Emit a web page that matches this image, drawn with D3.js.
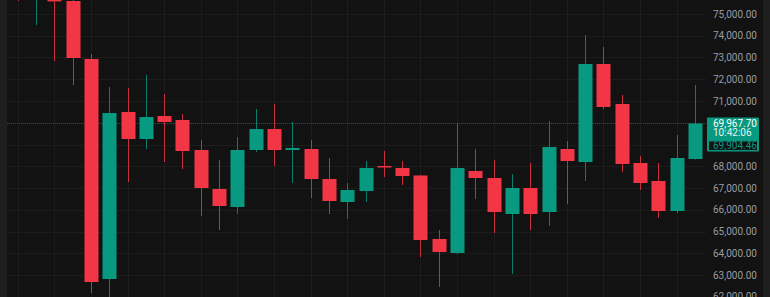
<!DOCTYPE html>
<html><head><meta charset="utf-8">
<script src="https://cdn.jsdelivr.net/npm/d3@7"></script>
<style>
html,body{margin:0;padding:0;background:#121212;}
svg{display:block;}
</style></head>
<body>
<svg id="c" width="770" height="297"></svg>
<script>
// ---- data ----
const idx   = [-1,0,1,2,3,4,5,6,7,8,9,10,11,12,13,14,15,16,17,18,19,20,21,22,23,24,25,26,27,28,29,30,31,32,33,34,35,36];
const opens = [76800,75700,76000,75598,72931,62816,70494,69253,70310,70126,68747,66954,66126,68747,69712,68747,68793,67413,66356,66862,68011,67919,67575,64655,64011,67781,67459,65804,67000,65896,68793,68195,72701,70862,68149,67322,65942,68333];
const highs = [77200,76400,76300,75660,73161,71643,71597,72195,71322,70402,69207,68287,69345,70632,70862,70034,69207,68379,67230,68241,68701,68241,67597,65068,69988,68793,68287,67643,68149,70080,69161,74034,73483,71276,68471,68149,69437,71735];
const lows  = [75600,74494,72839,71735,62172,61700,67275,68793,68195,67873,65712,65068,65804,68655,68011,67230,66540,65804,65574,66356,67505,67138,63827,62448,63965,66494,64930,63045,65068,65252,66264,67322,70632,67735,66908,65620,65850,68310];
const closes= [76100,76000,75580,72977,62677,70448,69253,70264,70034,68701,67000,66172,68747,69712,68747,68839,67413,66402,66908,67919,67942,67551,64609,64057,67919,67459,65896,67000,65804,68885,68241,72701,70724,68103,67230,65942,68379,69967.70];
const priceTicks = [62000,63000,64000,65000,66000,67000,68000,69000,70000,71000,72000,73000,74000,75000];
const axisLabelTicks = [62000,63000,64000,65000,66000,67000,68000,71000,72000,73000,74000,75000];
const lastPriceText = "69,967.70";
const countdownText = "10:42:06";
const secondPriceText = "69,904.46";

const UP = "#089981", DOWN = "#f23645";
const W = 770, H = 297;
const plotL = 7, plotR = 706, axisR = 763;

const svg = d3.select("#c");
svg.append("rect").attr("width",W).attr("height",H).attr("fill","#121212");
svg.append("rect").attr("x",0).attr("y",0).attr("width",plotL).attr("height",H).attr("fill","#1f1f1f");
svg.append("rect").attr("x",axisR).attr("y",0).attr("width",W-axisR).attr("height",H).attr("fill","#1f1f1f");

const x = d3.scaleLinear().domain([0,36]).range([36,695]);
const y = d3.scaleLinear().domain([63000,75000]).range([275,14]);
const fmt = d3.format(",.2f");

const plot = svg.append("g");
plot.append("clipPath").attr("id","pc").append("rect").attr("x",plotL).attr("y",0).attr("width",plotR-plotL).attr("height",H);
const g = plot.append("g").attr("clip-path","url(#pc)");

// grid
g.selectAll("line.h").data(priceTicks).join("line")
  .attr("x1",plotL).attr("x2",plotR)
  .attr("y1",d=>Math.round(y(d))+0.5).attr("y2",d=>Math.round(y(d))+0.5)
  .attr("stroke","#1c1c1c").attr("stroke-width",1);
const vgrid = idx.filter(i => Math.abs(i % 2) === 1);
g.selectAll("line.v").data(vgrid).join("line")
  .attr("x1",d=>Math.round(x(d))+0.5).attr("x2",d=>Math.round(x(d))+0.5)
  .attr("y1",0).attr("y2",H)
  .attr("stroke","#1c1c1c").attr("stroke-width",1);

// last price dotted line
const lastClose = closes[closes.length-1];
g.append("line").attr("x1",plotL).attr("x2",plotR)
  .attr("y1",Math.round(y(lastClose))+0.5).attr("y2",Math.round(y(lastClose))+0.5)
  .attr("stroke",UP).attr("stroke-opacity",0.45).attr("stroke-dasharray","1,1");

// candles
const data = idx.map((i,k)=>({i, o:opens[k], h:highs[k], l:lows[k], c:closes[k]}));
const bw = 14;
const cg = g.selectAll("g.c").data(data).join("g");
cg.append("line")
  .attr("x1",d=>Math.round(x(d.i))+0.5).attr("x2",d=>Math.round(x(d.i))+0.5)
  .attr("y1",d=>y(d.h)).attr("y2",d=>y(d.l))
  .attr("stroke",d=>d.c>=d.o?UP:DOWN).attr("stroke-opacity",0.8).attr("stroke-width",1);
cg.append("rect")
  .attr("x",d=>Math.round(x(d.i))-bw/2+0.5)
  .attr("width",bw)
  .attr("y",d=>y(Math.max(d.o,d.c)))
  .attr("height",d=>Math.max(1,Math.abs(y(d.o)-y(d.c))))
  .attr("fill",d=>d.c>=d.o?UP:DOWN);

// axis labels
svg.append("g").selectAll("text").data(axisLabelTicks).join("text")
  .attr("x",713).attr("y",d=>y(d))
  .attr("dy","0.35em")
  .attr("fill","#9a9ca3")
  .attr("font-family","Roboto, 'Liberation Sans', sans-serif")
  .attr("font-size","10px")
  .text(d=>fmt(d));

// price label box
const by = y(lastClose) - 6;
const lab = svg.append("g");
lab.append("rect").attr("x",707).attr("y",by).attr("width",52).attr("height",34).attr("fill",UP).attr("rx",1);
lab.append("rect").attr("x",708.5).attr("y",by+23.5).attr("width",49).attr("height",9.5).attr("fill","#121212").attr("stroke",UP).attr("stroke-width",1);
lab.append("text").attr("x",713).attr("y",by+6).attr("dy","0.35em").attr("fill","#ffffff")
  .attr("font-family","Roboto, 'Liberation Sans', sans-serif").attr("font-size","10px").text(lastPriceText);
lab.append("text").attr("x",713).attr("y",by+15.5).attr("dy","0.35em").attr("fill","#e6f5f2")
  .attr("font-family","Roboto, 'Liberation Sans', sans-serif").attr("font-size","10px").text(countdownText);
lab.append("text").attr("x",713).attr("y",by+28.5).attr("dy","0.35em").attr("fill",UP)
  .attr("font-family","Roboto, 'Liberation Sans', sans-serif").attr("font-size","10px").text(secondPriceText);
</script>
</body></html>
